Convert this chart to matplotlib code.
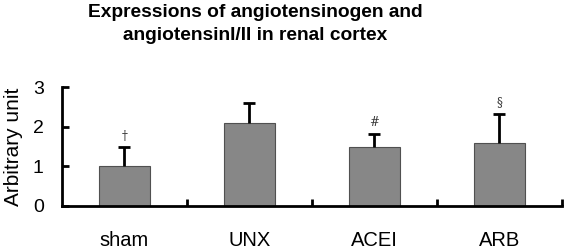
import matplotlib
matplotlib.use('Agg')
import matplotlib.pyplot as plt
import numpy as np

# Data
groups = ['sham', 'UNX', 'ACEI', 'ARB']
means = [1.0, 2.08, 1.49, 1.59]
errors = [0.48, 0.51, 0.32, 0.74]
marks = ['\u2020', '', '#', '\u00a7']

plt.rcParams['font.family'] = ['Liberation Sans', 'DejaVu Sans']

fig = plt.figure(figsize=(5.68, 2.5), dpi=100)
ax = fig.add_axes([0.109, 0.176, 0.88, 0.476])

x = np.arange(len(groups))
ax.bar(x, means, width=0.41, color='#878787', edgecolor='#505050', linewidth=0.8,
       zorder=2)
_, caps, _ = ax.errorbar(x, means, yerr=[np.zeros(len(errors)), errors], fmt='none',
                         ecolor='black', elinewidth=2, capsize=4, capthick=2, zorder=3)
caps[0].set_visible(False)  # only the upper cap

# significance marks above the error bars
for xi, m, e, s in zip(x, means, errors, marks):
    if s:
        ax.text(xi, m + e + 0.12, s, ha='center', va='bottom', fontsize=8.5,
                family=['DejaVu Serif'], color='#333333')

ax.set_xlim(-0.5, 3.5)
ax.set_ylim(0, 3)
ax.set_yticks([0, 1, 2, 3])
ax.set_xticks(x)
ax.set_xticklabels(groups)
ax.set_xticks([0.5, 1.5, 2.5, 3.5], minor=True)

ax.spines['top'].set_visible(False)
ax.spines['right'].set_visible(False)
ax.spines['left'].set_linewidth(2)
ax.spines['bottom'].set_linewidth(2)

ax.tick_params(axis='y', direction='in', length=5, width=2, labelsize=14, pad=13)
ax.tick_params(axis='x', which='major', length=0, labelsize=14.5, pad=18)
ax.tick_params(axis='x', which='minor', direction='in', length=5, width=2)

ax.set_ylabel('Arbitrary unit', fontsize=15, labelpad=7)

fig.text(0.45, 0.985, 'Expressions of angiotensinogen and\nangiotensinI/II in renal cortex',
         ha='center', va='top', fontsize=13.8, fontweight='bold', linespacing=1.45)

fig.savefig('out.png', dpi=100)
